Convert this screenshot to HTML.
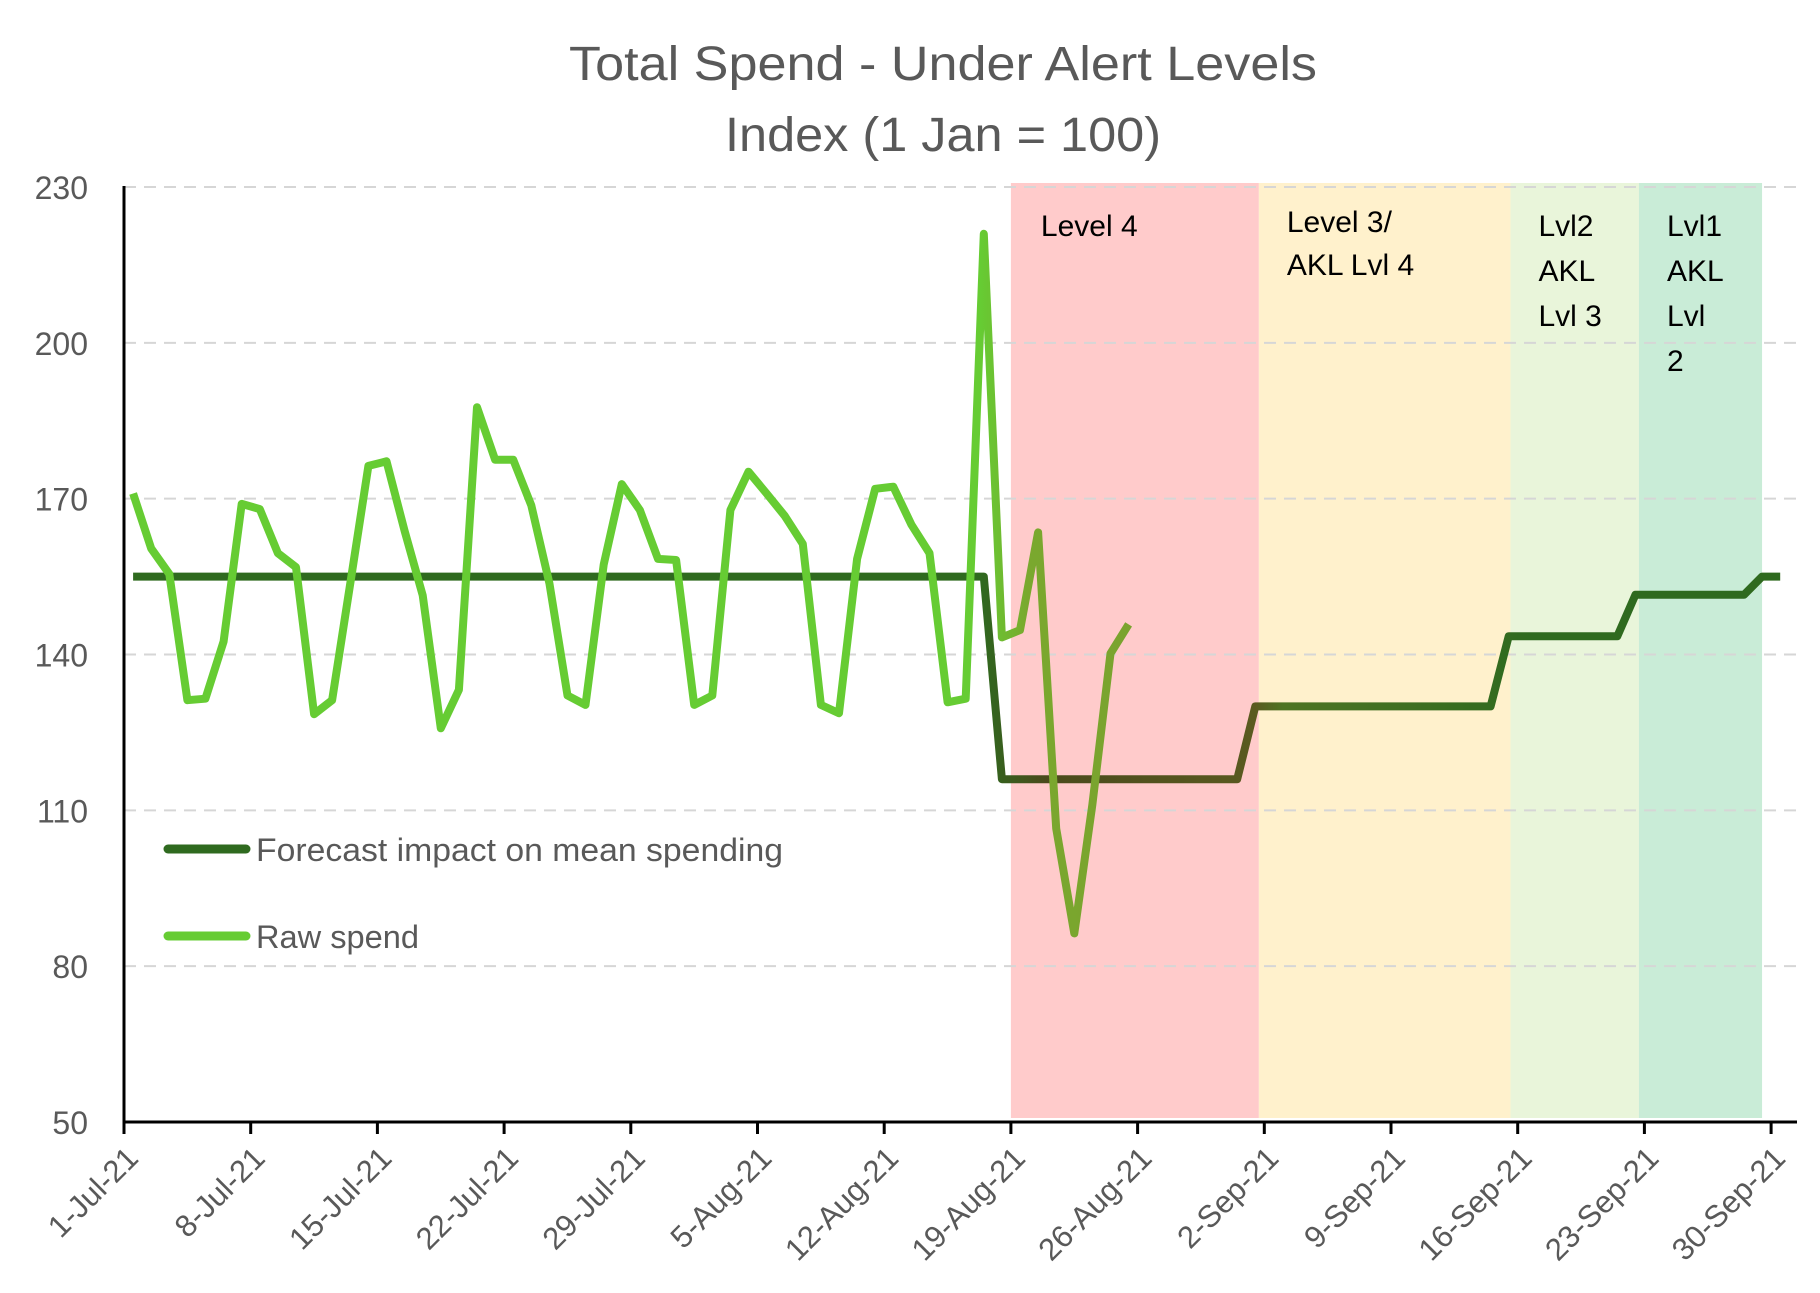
<!DOCTYPE html>
<html><head><meta charset="utf-8"><style>
html,body{margin:0;padding:0;background:#fff;}
svg{display:block;font-family:"Liberation Sans",sans-serif;}
</style></head><body>
<svg id="chart" width="1820" height="1293" viewBox="0 0 1820 1293" xmlns="http://www.w3.org/2000/svg">
<defs>
<linearGradient id="fcGrad" gradientUnits="userSpaceOnUse" x1="980" y1="0" x2="1530" y2="0">
<stop offset="0" stop-color="#2f6a1f"/><stop offset="0.12" stop-color="#4a4a1c"/><stop offset="0.5" stop-color="#5a5a20"/><stop offset="0.55" stop-color="#4e7423"/><stop offset="1" stop-color="#2f6a1f"/>
</linearGradient>
<linearGradient id="rawGrad" gradientUnits="userSpaceOnUse" x1="980" y1="0" x2="1140" y2="0">
<stop offset="0" stop-color="#66cc33"/><stop offset="0.3" stop-color="#7aa82e"/><stop offset="1" stop-color="#7aa22e"/>
</linearGradient>
</defs>
<g id="bands"></g>
<g id="grid"></g>
<g id="axes"></g>
<g id="series"></g>
<g id="labels"></g>
<text x="943" y="80" text-anchor="middle" font-size="48" fill="#595959" textLength="748" lengthAdjust="spacingAndGlyphs">Total Spend - Under Alert Levels</text>
<text x="943" y="151" text-anchor="middle" font-size="48" fill="#595959" textLength="436" lengthAdjust="spacingAndGlyphs">Index (1 Jan = 100)</text>
<g>
<line x1="168" y1="849" x2="246" y2="849" stroke="#2f6a1f" stroke-width="9" stroke-linecap="round"/>
<text x="256" y="861" font-size="32" fill="#595959" textLength="527" lengthAdjust="spacingAndGlyphs">Forecast impact on mean spending</text>
<line x1="168" y1="936" x2="246" y2="936" stroke="#66cc33" stroke-width="9" stroke-linecap="round"/>
<text x="256" y="948" font-size="32" fill="#595959" textLength="163" lengthAdjust="spacingAndGlyphs">Raw spend</text>
</g>
</svg>
<script>
const yTicks = [50, 80, 110, 140, 170, 200, 230];
const xTickLabels = ["1-Jul-21","8-Jul-21","15-Jul-21","22-Jul-21","29-Jul-21","5-Aug-21","12-Aug-21","19-Aug-21","26-Aug-21","2-Sep-21","9-Sep-21","16-Sep-21","23-Sep-21","30-Sep-21"];
const rawSpend = [171,160.4,155.5,131.2,131.5,142.5,169,168,159.5,156.8,128.5,131.2,153.7,176.3,177.2,163.8,151.4,125.8,133.2,187.6,177.5,177.5,168.7,153.7,132.1,130.3,157.3,172.8,167.8,158.4,158.2,130.3,132.1,167.8,175.2,171,166.7,161.3,130.3,128.7,158.4,171.9,172.3,165,159.5,130.8,131.5,221,143.3,144.7,163.5,106.5,86.3,111,140.2,145.8];
const forecast = [];
for (let i = 0; i < 92; i++) forecast.push(i < 48 ? 155 : i < 62 ? 116 : i < 76 ? 130 : i < 83 ? 143.5 : i < 90 ? 151.5 : 155);
const bandNames = ["level-4","level-3","level-2","level-1"];
const bandStart = [49, 62.7, 76.6, 83.7];
const bandEnd = [62.7, 76.6, 83.7, 90.5];
const bandColors = ["#ffcbcb","#fff1cc","#e9f5da","#c9ecd7"];
const bandText = [["Level 4"],["Level 3/","AKL Lvl 4"],["Lvl2","AKL","Lvl 3"],["Lvl1","AKL","Lvl","2"]];

const X0 = 124, DAY = 18.1, YTOP = 187, YBOT = 1122, VMIN = 50, VMAX = 230;
const xScale = d => X0 + d * DAY;
const yScale = v => YBOT - (v - VMIN) / (VMAX - VMIN) * (YBOT - YTOP);
const NS = "http://www.w3.org/2000/svg";
function mk(tag, attrs, parent, txt) {
  const e = document.createElementNS(NS, tag);
  for (const k in attrs) e.setAttribute(k, attrs[k]);
  if (txt !== undefined) e.textContent = txt;
  document.getElementById(parent).appendChild(e);
  return e;
}
bandStart.forEach((s, i) => {
  const r = mk("rect", {x: xScale(s), y: 183, width: xScale(bandEnd[i]) - xScale(s), height: 935, fill: bandColors[i]}, "bands");
  
  
  bandText[i].forEach((t, j) => {
    const tx = mk("text", {x: xScale(s) + (i === 0 ? 30 : i === 1 ? 28 : 28), y: (i === 1 ? 232 : 236) + j * (i === 1 ? 43 : 45), "font-size": 30, fill: "#000"}, "labels", t);
    
    
  });
});
yTicks.forEach(v => {
  if (v > 50) {
    const g = mk("line", {x1: X0, x2: 1797, y1: yScale(v), y2: yScale(v), stroke: "#d6d6d6", "stroke-width": 2, "stroke-dasharray": "12,8"}, "grid");
    
    
  }
  const t = mk("text", {x: 88, y: yScale(v) + 12, "text-anchor": "end", "font-size": 32, fill: "#595959"}, "labels", String(v));
  
  
});
const ya = mk("line", {x1: X0, x2: X0, y1: YTOP - 1, y2: YBOT + 1, stroke: "#000", "stroke-width": 3}, "axes");


const xa = mk("line", {x1: X0 - 1, x2: 1797, y1: YBOT, y2: YBOT, stroke: "#000", "stroke-width": 3}, "axes");


xTickLabels.forEach((lab, i) => {
  const x = xScale(i * 7);
  const tk = mk("line", {x1: x, x2: x, y1: YBOT, y2: YBOT + 12, stroke: "#000", "stroke-width": 3}, "axes");
  
  
  const t = mk("text", {x: x + 16, y: YBOT + 38, "text-anchor": "end", "font-size": 31, fill: "#595959", transform: `rotate(-45 ${x + 16} ${YBOT + 38})`}, "labels", lab);
  
  
});
const fp = forecast.map((v, i) => `${xScale(i + 0.5).toFixed(1)},${yScale(v).toFixed(1)}`).join(" ");
const fl = mk("polyline", {points: fp, fill: "none", stroke: "url(#fcGrad)", "stroke-width": 8, "stroke-linejoin": "round"}, "series");


const rp = rawSpend.map((v, i) => `${xScale(i + 0.5).toFixed(1)},${yScale(v).toFixed(1)}`).join(" ");
const rl = mk("polyline", {points: rp, fill: "none", stroke: "url(#rawGrad)", "stroke-width": 8, "stroke-linejoin": "round"}, "series");


</script>
</body></html>
